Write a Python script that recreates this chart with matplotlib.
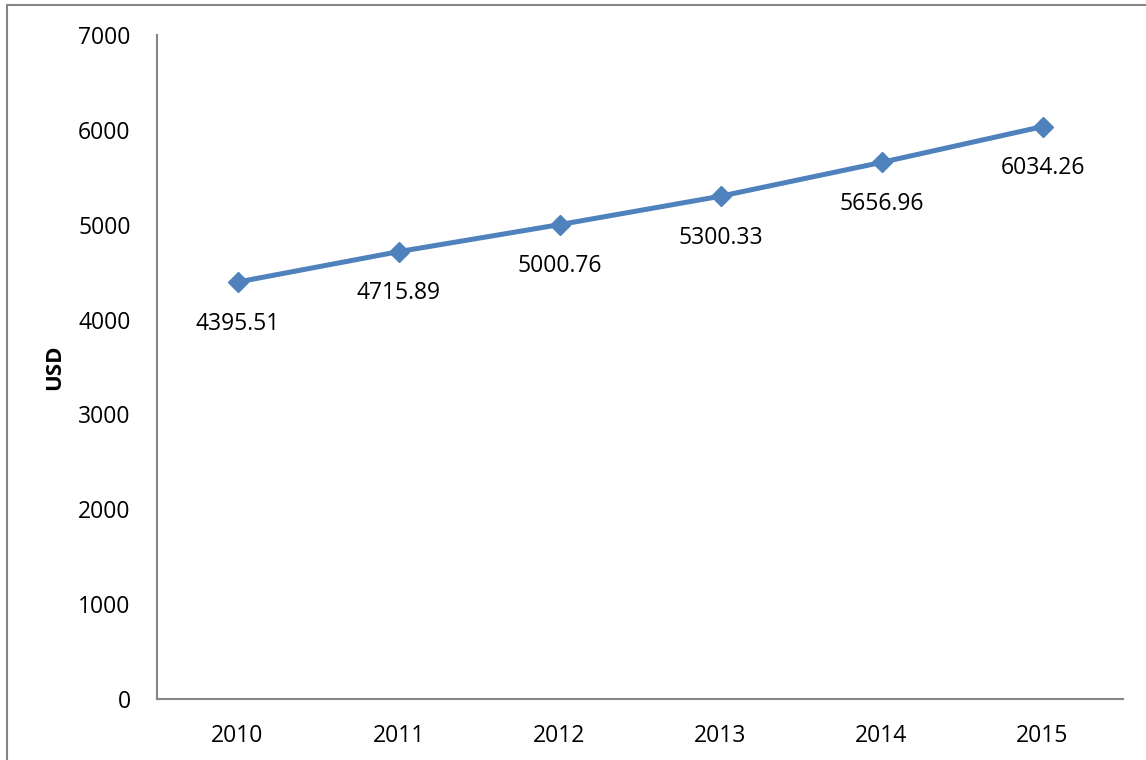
import matplotlib.pyplot as plt
import matplotlib.patches as patches

years = ["2010", "2011", "2012", "2013", "2014", "2015"]
usd = [4395.51, 4715.89, 5000.76, 5300.33, 5656.96, 6034.26]
yticks = [0, 1000, 2000, 3000, 4000, 5000, 6000, 7000]

plt.rcParams['font.family'] = ['Open Sans', 'DejaVu Sans']

fig = plt.figure(figsize=(11.46, 7.6), dpi=100)
ax = fig.add_axes([157/1146, 1 - 699/760, 966/1146, 664/760])

x = list(range(len(years)))
ax.plot(x, usd, color="#4F81BD", linewidth=3.6, marker="D", markersize=10, zorder=3)

for xi, v in zip(x, usd):
    ax.annotate(f"{v:.2f}", (xi, v), xytext=(0, -30), textcoords="offset points",
                ha="center", va="center", fontsize=16.5)

ax.set_xlim(-0.5, 5.5)
ax.set_ylim(0, 7000)
ax.set_xticks(x)
ax.set_xticklabels(years)
ax.set_yticks(yticks)
ax.tick_params(axis="both", length=0, labelsize=16.5)
ax.tick_params(axis="y", pad=19)
ax.tick_params(axis="x", pad=18)

for s in ["top", "right"]:
    ax.spines[s].set_visible(False)
for s in ["left", "bottom"]:
    ax.spines[s].set_color("#868686")
    ax.spines[s].set_linewidth(1.5)

ax.set_ylabel("USD", fontsize=16, fontweight="bold")
ax.yaxis.set_label_coords(-92/966, 0.5)

# outer chart border
fig.patches.append(patches.Rectangle((7/1146, -0.05), 1.1, 1 - 5/760 + 0.05,
                                     transform=fig.transFigure, fill=False,
                                     edgecolor="#868686", linewidth=1.5))

fig.savefig("out.png", dpi=100)
